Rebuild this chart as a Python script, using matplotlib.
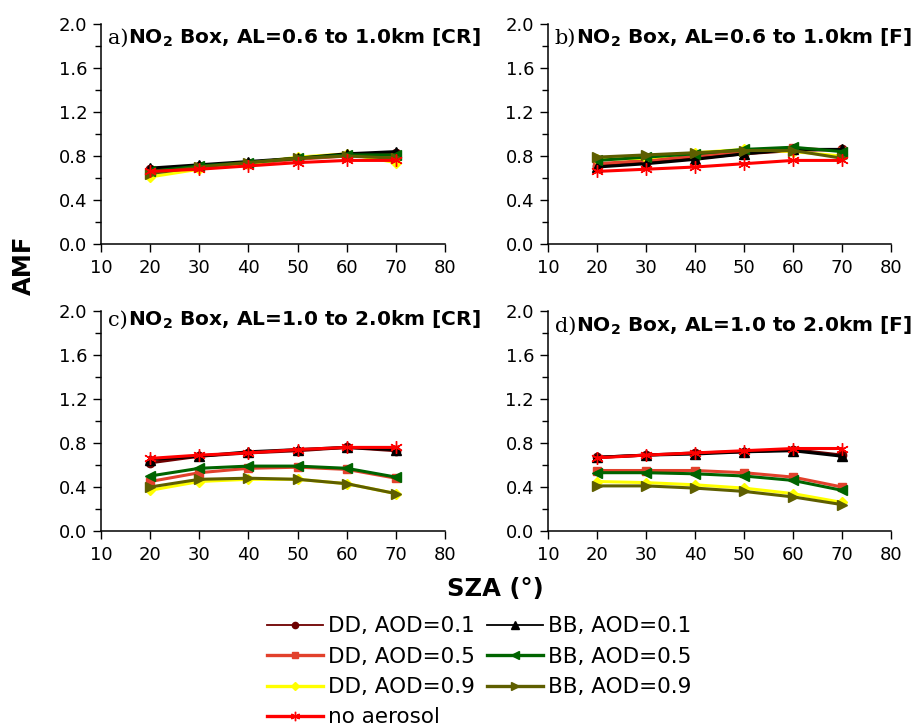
import matplotlib

matplotlib.use("Agg")
import matplotlib.pyplot as plt
from matplotlib.ticker import MultipleLocator

plt.rcParams.update({
    "font.family": ["DejaVu Sans"],
    "mathtext.fontset": "dejavusans",
})

# Solar zenith angles (deg)
sza = [20, 30, 40, 50, 60, 70]

# a) NO2 box, AL=0.6 to 1.0 km, CR
a_dd01 = [0.68, 0.71, 0.74, 0.78, 0.81, 0.83]
a_dd05 = [0.65, 0.70, 0.73, 0.77, 0.80, 0.80]
a_dd09 = [0.61, 0.68, 0.73, 0.79, 0.82, 0.74]
a_bb01 = [0.69, 0.72, 0.75, 0.78, 0.82, 0.84]
a_bb05 = [0.66, 0.71, 0.74, 0.78, 0.81, 0.81]
a_bb09 = [0.64, 0.70, 0.74, 0.78, 0.80, 0.78]
a_none = [0.66, 0.68, 0.71, 0.74, 0.76, 0.76]

# b) NO2 box, AL=0.6 to 1.0 km, F
b_dd01 = [0.71, 0.74, 0.78, 0.82, 0.85, 0.86]
b_dd05 = [0.73, 0.76, 0.80, 0.84, 0.87, 0.85]
b_dd09 = [0.77, 0.78, 0.83, 0.86, 0.84, 0.80]
b_bb01 = [0.70, 0.73, 0.77, 0.82, 0.86, 0.86]
b_bb05 = [0.76, 0.79, 0.82, 0.86, 0.88, 0.84]
b_bb09 = [0.79, 0.81, 0.83, 0.85, 0.85, 0.78]
b_none = [0.66, 0.68, 0.70, 0.73, 0.76, 0.76]

# c) NO2 box, AL=1.0 to 2.0 km, CR
c_dd01 = [0.62, 0.68, 0.71, 0.73, 0.76, 0.73]
c_dd05 = [0.45, 0.53, 0.57, 0.58, 0.56, 0.48]
c_dd09 = [0.37, 0.45, 0.47, 0.47, 0.43, 0.34]
c_bb01 = [0.65, 0.68, 0.72, 0.74, 0.76, 0.74]
c_bb05 = [0.50, 0.57, 0.59, 0.59, 0.57, 0.49]
c_bb09 = [0.40, 0.47, 0.48, 0.47, 0.43, 0.34]
c_none = [0.66, 0.69, 0.71, 0.74, 0.76, 0.76]

# d) NO2 box, AL=1.0 to 2.0 km, F
d_dd01 = [0.67, 0.69, 0.71, 0.72, 0.74, 0.69]
d_dd05 = [0.55, 0.55, 0.55, 0.53, 0.49, 0.40]
d_dd09 = [0.45, 0.44, 0.42, 0.39, 0.34, 0.26]
d_bb01 = [0.67, 0.69, 0.70, 0.72, 0.73, 0.68]
d_bb05 = [0.53, 0.53, 0.52, 0.50, 0.46, 0.37]
d_bb09 = [0.41, 0.41, 0.39, 0.36, 0.31, 0.24]
d_none = [0.665, 0.69, 0.71, 0.73, 0.75, 0.75]

labels = ["DD, AOD=0.1", "DD, AOD=0.5", "DD, AOD=0.9", "no aerosol",
          "BB, AOD=0.1", "BB, AOD=0.5", "BB, AOD=0.9"]
colors = ["#6e0000", "#e2412c", "#ffff00", "#ff0000",
          "#000000", "#006400", "#5e5e00"]
markers = ["o", "s", "D", (6, 2, 0), "^", "<", ">"]
msizes = [6, 6, 5, 9, 7, 7, 7]

panels = [
    ("a)", "NO$_\\mathbf{2}$ Box, AL=0.6 to 1.0km [CR]",
     [a_dd01, a_dd05, a_dd09, a_none, a_bb01, a_bb05, a_bb09],
     [0.1109, 0.6639, 0.3776, 0.3030], 0.912),
    ("b)", "NO$_\\mathbf{2}$ Box, AL=0.6 to 1.0km [F]",
     [b_dd01, b_dd05, b_dd09, b_none, b_bb01, b_bb05, b_bb09],
     [0.6015, 0.6639, 0.3765, 0.3030], 0.912),
    ("c)", "NO$_\\mathbf{2}$ Box, AL=1.0 to 2.0km [CR]",
     [c_dd01, c_dd05, c_dd09, c_none, c_bb01, c_bb05, c_bb09],
     [0.1109, 0.2686, 0.3776, 0.3030], 0.935),
    ("d)", "NO$_\\mathbf{2}$ Box, AL=1.0 to 2.0km [F]",
     [d_dd01, d_dd05, d_dd09, d_none, d_bb01, d_bb05, d_bb09],
     [0.6015, 0.2686, 0.3765, 0.3030], 0.905),
]

# draw order inside each panel: DD first, then BB, no aerosol on top
draw_order = [0, 1, 2, 4, 5, 6, 3]

fig = plt.figure(figsize=(9.11, 7.26), dpi=100)
handles = [None] * len(labels)

for letter, title, series, rect, ty in panels:
    ax = fig.add_axes(rect)
    for i in draw_order:
        (ln,) = ax.plot(sza, series[i], color=colors[i], marker=markers[i],
                        markersize=msizes[i], linewidth=2.2, label=labels[i])
        handles[i] = ln

    ax.set_xlim(10, 80)
    ax.set_ylim(0, 2.0)
    ax.xaxis.set_major_locator(MultipleLocator(10))
    ax.yaxis.set_major_locator(MultipleLocator(0.4))
    ax.yaxis.set_minor_locator(MultipleLocator(0.2))
    ax.yaxis.set_major_formatter(lambda v, pos: f"{v:.1f}")
    for side in ("top", "right"):
        ax.spines[side].set_visible(False)
    for side in ("left", "bottom"):
        ax.spines[side].set_linewidth(1.1)
    ax.tick_params(which="major", direction="out", length=6, width=1.0,
                   labelsize=13, color="black")
    ax.tick_params(axis="y", which="major", pad=4)
    ax.tick_params(axis="x", which="major", pad=5)
    ax.tick_params(which="minor", direction="out", length=4, width=1.0)

    lt = ax.text(0.02, ty, letter, transform=ax.transAxes, fontsize=15,
                 family="DejaVu Serif", va="baseline", ha="left")
    ax.annotate(title, xy=(1, ty), xycoords=(lt, "axes fraction"),
                fontsize=14.5, fontweight="bold", va="baseline", ha="left",
                annotation_clip=False)

fig.text(24 / 911, 1 - 265 / 726, "AMF", rotation=90, fontsize=17.5,
         fontweight="bold", ha="center", va="center")
fig.text(495 / 911, 1 - 589 / 726, "SZA (°)", fontsize=17.5,
         fontweight="bold", ha="center", va="center")

leg = fig.legend(handles, labels, ncol=2, loc="upper left",
                 bbox_to_anchor=(0.293, 0.151), frameon=False, fontsize=15.5,
                 borderpad=0, borderaxespad=0, handlelength=2.6,
                 handletextpad=0.25, columnspacing=0.55, labelspacing=0.48,
                 markerscale=0.75)
for ln, lw in zip(leg.get_lines(), [1.3, 2.4, 2.4, 2.4, 1.3, 2.4, 2.4]):
    ln.set_linewidth(lw)

fig.savefig("out.png", dpi=100)
